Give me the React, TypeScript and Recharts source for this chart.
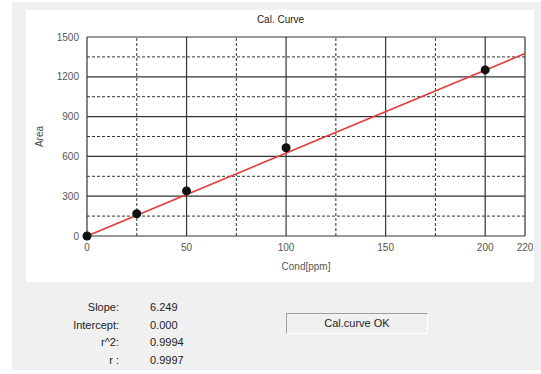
import React from "react";
import { ComposedChart, Line, Scatter, XAxis, YAxis, ReferenceLine } from "recharts";

// calibration standards (Cond ppm -> Area)
const stdConc = [0, 25, 50, 100, 200];
const stdArea = [0, 168, 340, 665, 1252];

// fitted line end points (slope 6.249, intercept 0)
const fitConc = [0, 220];
const fitArea = [0, 1375];

const xTicks = [0, 50, 100, 150, 200, 220];
const yTicks = [0, 300, 600, 900, 1200, 1500];
const xMajor = [50, 100, 150, 200, 220];
const xMinor = [25, 75, 125, 175];
const yMajor = [300, 600, 900, 1200, 1500];
const yMinor = [150, 450, 750, 1050, 1350];

const statLabels = ["Slope:", "Intercept:", "r^2:", "r :"];
const statValues = ["6.249", "0.000", "0.9994", "0.9997"];

const points = stdConc.map((x, i) => ({ x, y: stdArea[i] }));
const fit = fitConc.map((x, i) => ({ x, y: fitArea[i] }));

const FONT = "Arial, 'Liberation Sans', sans-serif";
const tickStyle = { fill: "#555", fontSize: 10, fontFamily: FONT };

const Dot = (p: any) => <circle cx={p.cx} cy={p.cy} r={4.5} fill="#111" />;

export default function App() {
  return (
    <div style={{ position: "absolute", left: 0, top: 0, width: 541, height: 374, background: "#fff", fontFamily: FONT }}>
      <div style={{ position: "absolute", left: 12, top: 2, width: 529, height: 368, background: "#f0f0f0" }} />
      <div style={{ position: "absolute", left: 26, top: 10, width: 508, height: 272, background: "#fff" }} />
      <div style={{ position: "absolute", left: 0, top: 0 }}>
        <ComposedChart width={541} height={300} margin={{ top: 37, right: 16, bottom: 20, left: 0 }}>
          <XAxis dataKey="x" type="number" domain={[0, 220]} ticks={xTicks}
            tick={tickStyle} tickLine={false} axisLine={{ stroke: "#333", strokeWidth: 1.2 }} height={44}
            label={{ value: "Cond[ppm]", position: "insideBottom", offset: 10, style: { fill: "#555", fontSize: 10, fontFamily: FONT } }} />
          <YAxis dataKey="y" type="number" domain={[0, 1500]} ticks={yTicks}
            tick={tickStyle} tickLine={false} axisLine={{ stroke: "#333", strokeWidth: 1.2 }} width={87}
            label={{ value: "Area", angle: -90, position: "insideLeft", offset: 39, style: { fill: "#444", fontSize: 10, fontFamily: FONT, textAnchor: "middle" } }} />
          {xMinor.map((v) => (
            <ReferenceLine key={"xm" + v} x={v} stroke="#333" strokeDasharray="3 2" />
          ))}
          {yMinor.map((v) => (
            <ReferenceLine key={"ym" + v} y={v} stroke="#333" strokeDasharray="3 2" />
          ))}
          {xMajor.map((v) => (
            <ReferenceLine key={"xM" + v} x={v} stroke="#333" strokeWidth={1.2} />
          ))}
          {yMajor.map((v) => (
            <ReferenceLine key={"yM" + v} y={v} stroke="#333" strokeWidth={1.2} />
          ))}
          <Scatter data={points} dataKey="y" shape={Dot} isAnimationActive={false} />
          <Line data={fit} dataKey="y" stroke="#e53a3a" strokeWidth={1.6} dot={false} isAnimationActive={false} />
        </ComposedChart>
      </div>
      <div style={{ position: "absolute", left: 0, width: 541, top: 14, textAlign: "center", fontSize: 10, color: "#222", paddingLeft: 20, boxSizing: "border-box" }}>
        Cal. Curve
      </div>
      {statLabels.map((l, i) => (
        <div key={l} style={{ position: "absolute", right: 541 - 119, top: 301 + i * 17.6, fontSize: 11, color: "#222" }}>{l}</div>
      ))}
      {statValues.map((v, i) => (
        <div key={v + i} style={{ position: "absolute", left: 150, top: 301 + i * 17.6, fontSize: 11, color: "#222" }}>{v}</div>
      ))}
      <div style={{ position: "absolute", left: 286, top: 313, width: 142, height: 21, boxSizing: "border-box",
        borderTop: "1px solid #a0a0a0", borderLeft: "1px solid #a0a0a0", borderRight: "1px solid #fff", borderBottom: "1px solid #fff",
        fontSize: 11, color: "#222", textAlign: "center", lineHeight: "19px" }}>
        Cal.curve OK
      </div>
    </div>
  );
}
